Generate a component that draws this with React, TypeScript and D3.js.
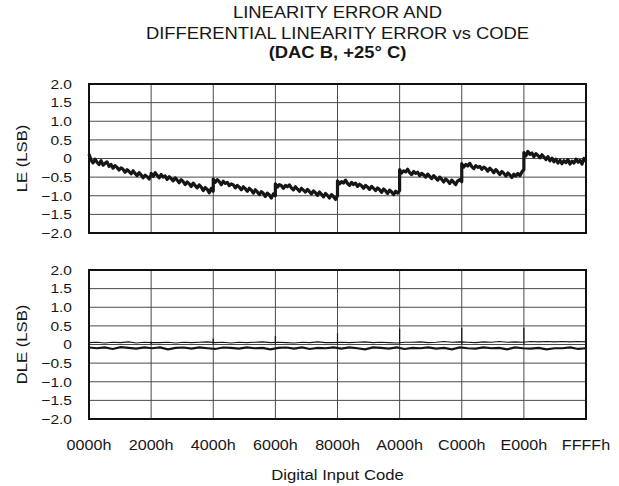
import React, { useEffect, useRef } from 'react';
import * as d3 from 'd3';

const W = 619;
const H = 486;

const titleLines = ['LINEARITY ERROR AND', 'DIFFERENTIAL LINEARITY ERROR vs CODE', '(DAC B, +25\u00b0 C)'];
const xTitle = 'Digital Input Code';
const leTitle = 'LE (LSB)';
const dleTitle = 'DLE (LSB)';

const xTickCodes = [0, 8192, 16384, 24576, 32768, 40960, 49152, 57344, 65535];
const xTickLabels = ['0000h', '2000h', '4000h', '6000h', '8000h', 'A000h', 'C000h', 'E000h', 'FFFFh'];
const yTicks = [2, 1.5, 1, 0.5, 0, -0.5, -1, -1.5, -2];
const yTickLabels = ['2.0', '1.5', '1.0', '0.5', '0', '\u22120.5', '\u22121.0', '\u22121.5', '\u22122.0'];

// LE, one array per 2000h segment (32 readings each)
const leSeg0 = [0.12, -0.04, -0.12, -0.02, -0.1, -0.16, -0.06, -0.18, -0.13, -0.09, -0.21, -0.16, -0.26, -0.19, -0.24, -0.31, -0.25, -0.29, -0.37, -0.3, -0.35, -0.41, -0.33, -0.4, -0.46, -0.38, -0.44, -0.52, -0.45, -0.49, -0.55, -0.44];
const leSeg1 = [-0.4, -0.48, -0.38, -0.45, -0.52, -0.43, -0.5, -0.47, -0.56, -0.49, -0.54, -0.6, -0.52, -0.58, -0.65, -0.57, -0.62, -0.7, -0.63, -0.68, -0.75, -0.66, -0.73, -0.79, -0.71, -0.77, -0.86, -0.78, -0.83, -0.92, -0.8, -0.88];
const leSeg2 = [-0.55, -0.64, -0.57, -0.62, -0.7, -0.61, -0.67, -0.64, -0.73, -0.68, -0.71, -0.79, -0.72, -0.77, -0.84, -0.76, -0.81, -0.88, -0.8, -0.85, -0.93, -0.84, -0.9, -0.97, -0.89, -0.94, -1.02, -0.93, -0.98, -1.06, -0.95, -1.0];
const leSeg3 = [-0.68, -0.77, -0.7, -0.73, -0.8, -0.72, -0.76, -0.71, -0.79, -0.84, -0.76, -0.82, -0.88, -0.8, -0.85, -0.9, -0.83, -0.89, -0.95, -0.87, -0.92, -0.99, -0.9, -0.96, -1.03, -0.94, -0.99, -1.06, -0.97, -1.02, -1.1, -1.0];
const leSeg4 = [-0.6, -0.68, -0.62, -0.66, -0.58, -0.67, -0.72, -0.64, -0.7, -0.66, -0.75, -0.69, -0.73, -0.8, -0.72, -0.77, -0.83, -0.75, -0.8, -0.86, -0.79, -0.84, -0.91, -0.82, -0.87, -0.94, -0.85, -0.9, -0.97, -0.88, -0.93, -0.86];
const leSeg5 = [-0.3, -0.39, -0.33, -0.36, -0.29, -0.38, -0.43, -0.35, -0.4, -0.37, -0.46, -0.4, -0.44, -0.5, -0.42, -0.48, -0.54, -0.46, -0.52, -0.58, -0.5, -0.56, -0.63, -0.55, -0.6, -0.67, -0.58, -0.64, -0.7, -0.6, -0.57, -0.62];
const leSeg6 = [-0.14, -0.23, -0.16, -0.2, -0.13, -0.22, -0.27, -0.19, -0.24, -0.21, -0.29, -0.23, -0.27, -0.34, -0.26, -0.31, -0.38, -0.3, -0.36, -0.43, -0.35, -0.4, -0.47, -0.39, -0.44, -0.51, -0.42, -0.47, -0.4, -0.46, -0.36, -0.3];
const leSeg7 = [0.16, 0.07, 0.19, 0.11, 0.15, 0.05, 0.13, 0.08, 0.02, 0.1, 0.04, -0.03, 0.05, -0.06, 0.01, -0.09, -0.02, -0.12, -0.05, -0.14, -0.06, -0.11, -0.03, -0.15, -0.07, -0.12, -0.02, -0.1, -0.05, -0.15, 0.0, -0.08];
const leSegments = [leSeg0, leSeg1, leSeg2, leSeg3, leSeg4, leSeg5, leSeg6, leSeg7];

// DLE, upper and lower edge of the band (64 readings, every 400h) and the spikes at major carries
const dleUpper = [0.05, 0.06, 0.04, 0.06, 0.05, 0.07, 0.04, 0.06, 0.05, 0.05, 0.06, 0.04, 0.06, 0.05, 0.06, 0.07, 0.05, 0.06, 0.04, 0.06, 0.05, 0.06, 0.07, 0.05, 0.06, 0.05, 0.04, 0.06, 0.05, 0.07, 0.05, 0.05, 0.06, 0.05, 0.06, 0.07, 0.05, 0.06, 0.05, 0.04, 0.06, 0.06, 0.07, 0.05, 0.06, 0.08, 0.06, 0.07, 0.06, 0.05, 0.07, 0.06, 0.08, 0.06, 0.07, 0.06, 0.08, 0.07, 0.08, 0.07, 0.08, 0.07, 0.08, 0.07];
const dleLower = [-0.08, -0.1, -0.08, -0.12, -0.07, -0.09, -0.11, -0.08, -0.1, -0.08, -0.13, -0.09, -0.08, -0.11, -0.08, -0.1, -0.12, -0.08, -0.09, -0.11, -0.08, -0.1, -0.09, -0.13, -0.09, -0.08, -0.11, -0.08, -0.12, -0.09, -0.1, -0.08, -0.11, -0.08, -0.1, -0.13, -0.08, -0.09, -0.11, -0.08, -0.12, -0.09, -0.1, -0.08, -0.11, -0.09, -0.13, -0.08, -0.1, -0.11, -0.08, -0.1, -0.09, -0.13, -0.08, -0.1, -0.11, -0.09, -0.13, -0.1, -0.1, -0.08, -0.12, -0.1];
const dleSpikeCodes = [8192, 16384, 24576, 32768, 40960, 49152, 57344];
const dleSpikeValues = [0.08, 0.16, 0.23, 0.3, 0.42, 0.45, 0.45];

const FONT = '"Liberation Sans", Arial, Helvetica, sans-serif';
const TEXT_SX = 1.15;
const INK = '#161616';

export default function App() {
  const ref = useRef<SVGSVGElement>(null);

  useEffect(() => {
    const svg = d3.select(ref.current);
    svg.selectAll('*').remove();

    const left = 89, right = 586;
    const panels = [
      { top: 84, bottom: 233, title: leTitle },
      { top: 270, bottom: 419, title: dleTitle },
    ];

    const x = d3.scaleLinear().domain([0, 65535]).range([left, right]);

    function label(str: string, px: number, py: number, size: number, opts: any = {}) {
      const t = svg.append('text')
        .attr('transform', 'translate(' + px + ',' + py + ')' + (opts.rotate ? ' rotate(-90)' : '') + ' scale(' + TEXT_SX + ',1)')
        .attr('text-anchor', opts.anchor || 'middle')
        .attr('dy', '0.36em')
        .style('font-family', FONT)
        .style('font-size', size + 'px')
        .style('fill', INK)
        .text(str);
      if (opts.bold) t.style('font-weight', 'bold');
      return t;
    }

    // title
    label(titleLines[0], 337.5, 12, 16);
    label(titleLines[1], 337.5, 33, 16);
    label(titleLines[2], 337.5, 52, 16, { bold: true });

    const ys = panels.map(p => d3.scaleLinear().domain([-2, 2]).range([p.bottom, p.top]));

    panels.forEach((p, pi) => {
      const y = ys[pi];
      const g = svg.append('g');

      // grid
      g.selectAll('.vgrid')
        .data(xTickCodes.slice(1, -1))
        .enter().append('line')
          .attr('x1', d => x(d)).attr('x2', d => x(d))
          .attr('y1', p.top).attr('y2', p.bottom)
          .style('stroke', '#4a4a4a').style('stroke-width', 1);
      g.selectAll('.hgrid')
        .data(yTicks.slice(1, -1))
        .enter().append('line')
          .attr('x1', left).attr('x2', right)
          .attr('y1', d => y(d)).attr('y2', d => y(d))
          .style('stroke', '#4a4a4a').style('stroke-width', 1);

      // y tick labels
      yTicks.forEach((v, i) => label(yTickLabels[i], 72, y(v), 13.5, { anchor: 'end' }));

      // y title
      label(p.title, 22, (p.top + p.bottom) / 2, 14.5, { rotate: true });
    });

    // LE trace
    const lePoints: [number, number][] = [];
    leSegments.forEach((seg, s) => {
      seg.forEach((v, i) => lePoints.push([s * 8192 + (i * 8191) / (seg.length - 1), v]));
    });
    const leLine = d3.line<[number, number]>()
      .x(d => x(d[0]))
      .y(d => ys[0](d[1]));
    svg.append('path')
      .attr('d', leLine(lePoints))
      .style('fill', 'none')
      .style('stroke', INK)
      .style('stroke-width', 3.2)
      .style('stroke-linejoin', 'round');

    // DLE band
    const dleLine = d3.line<number>()
      .x((d, i) => x((i * 65535) / (dleUpper.length - 1)))
      .y(d => ys[1](d));
    svg.append('path')
      .attr('d', dleLine(dleUpper))
      .style('fill', 'none').style('stroke', INK).style('stroke-width', 1.1);
    svg.append('path')
      .attr('d', dleLine(dleLower))
      .style('fill', 'none').style('stroke', INK).style('stroke-width', 2.2);
    svg.selectAll('.spike')
      .data(dleSpikeCodes)
      .enter().append('line')
        .attr('x1', d => x(d)).attr('x2', d => x(d))
        .attr('y1', ys[1](0)).attr('y2', (d, i) => ys[1](dleSpikeValues[i]))
        .style('stroke', INK).style('stroke-width', 1.2);

    // frames
    panels.forEach(p => {
      svg.append('rect')
        .attr('x', left).attr('y', p.top)
        .attr('width', right - left).attr('height', p.bottom - p.top)
        .style('fill', 'none').style('stroke', '#111').style('stroke-width', 2);
    });

    // x axis
    xTickCodes.forEach((c, i) => label(xTickLabels[i], x(c), 445, 14));
    label(xTitle, 337.5, 475, 14.5);
  }, []);

  return (
    <svg ref={ref} width={W} height={H}
      style={{ position: 'absolute', left: 0, top: 0, background: '#fff' }} />
  );
}
